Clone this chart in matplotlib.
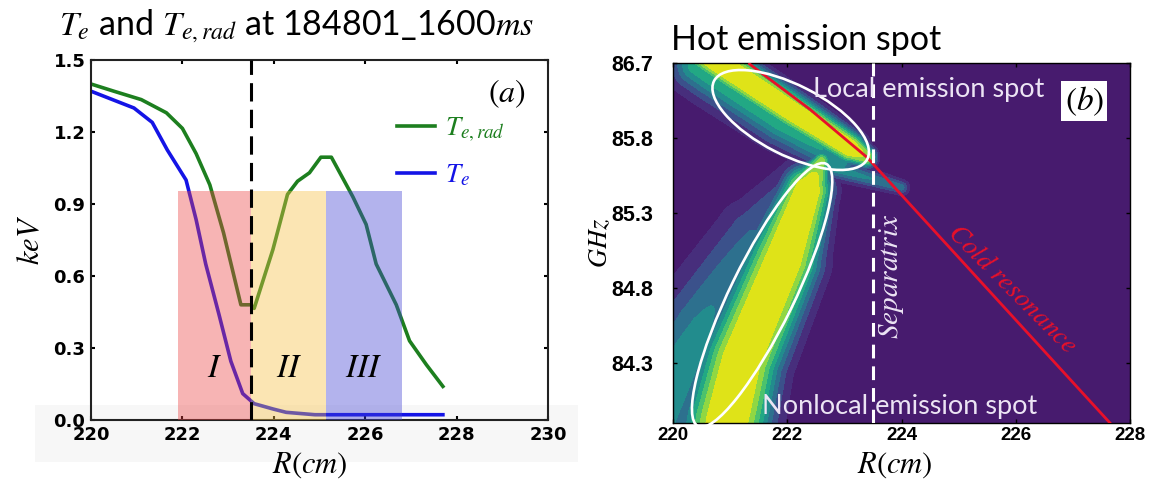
import numpy as np
import matplotlib
matplotlib.use('Agg')
import matplotlib.pyplot as plt
from matplotlib.patches import Rectangle, Ellipse
from matplotlib.lines import Line2D
import matplotlib.transforms as mtransforms
from matplotlib import cm

plt.rcParams['mathtext.fontset'] = 'stix'
plt.rcParams['font.family'] = ['Lato', 'DejaVu Sans']

# ---------------- panel (a) data ----------------
R_rad = [220.0, 220.5, 221.1, 221.65, 222.0, 222.3, 222.6, 222.9, 223.28, 223.5,
         223.57, 223.98, 224.3, 224.52, 224.78, 225.03, 225.26, 225.73, 226.02,
         226.24, 226.68, 226.97, 227.34, 227.7]
T_rad = [1.40, 1.37, 1.335, 1.28, 1.215, 1.11, 0.98, 0.78, 0.48, 0.48,
         0.465, 0.71, 0.94, 0.995, 1.03, 1.095, 1.095, 0.93, 0.815,
         0.65, 0.48, 0.33, 0.23, 0.14]
R_e = [220.0, 220.94, 221.34, 221.67, 222.08, 222.3, 222.51, 222.8, 223.06,
       223.32, 223.57, 224.0, 224.27, 224.9, 227.7]
T_e = [1.37, 1.30, 1.24, 1.125, 1.0, 0.835, 0.65, 0.44, 0.245,
       0.11, 0.068, 0.045, 0.032, 0.022, 0.022]
region_edges = [221.9, 223.5, 225.15, 226.8]
region_top = 0.955
region_labels = ['I', 'II', 'III']
separatrix_R = 223.5
xticks_a = [220, 222, 224, 226, 228, 230]
yticks_a = [0.0, 0.3, 0.6, 0.9, 1.2, 1.5]

# ---------------- panel (b) data ----------------
# emission ridges: centre line (R, f), half-width (px), amplitude
local_R = [220.56, 220.81, 222.05, 223.1, 223.38]
local_f = [86.367, 86.30, 85.987, 85.733, 85.673]
local_w = [19, 19, 18, 15, 10]
local_a = [1.0, 1.0, 1.0, 1.0, 0.85]

sheath_R = [220.40, 220.65, 221.89, 222.94]
sheath_f = [86.28, 86.213, 85.90, 85.647]
sheath_w = [21, 21, 20, 14]
sheath_a = [0.6, 0.6, 0.6, 0.5]

nonlocal_R = [222.6, 222.35, 221.93, 221.2, 220.95, 220.88]
nonlocal_f = [85.65, 85.45, 84.987, 84.32, 83.92, 83.72]
nonlocal_w = [8, 24, 35, 38, 41, 42]
nonlocal_a = [0.8, 1.0, 1.0, 1.0, 1.0, 1.0]

skirt_R = [222.2, 221.4, 220.5, 219.6]
skirt_f = [85.6, 85.15, 84.55, 83.9]
skirt_w = [14, 30, 38, 42]
skirt_a = [0.15, 0.3, 0.44, 0.55]

tail_R = [222.71, 224.0]
tail_f = [85.61, 85.47]
tail_w = [9, 6]
tail_a = [0.5, 0.35]

cold_R = [221.34, 222.4, 223.4, 224.3, 227.65]
cold_f = [86.293, 85.99, 85.67, 85.295, 83.9]

f_tick_pos = [86.3, 85.8, 85.3, 84.8, 84.3]
f_tick_lab = ['86.7', '85.8', '85.3', '84.8', '84.3']
xticks_b = [220, 222, 224, 226, 228]

# ---------------- figure ----------------
W, H = 1149, 484
fig = plt.figure(figsize=(W / 100, H / 100), dpi=100)

# faint grey strip behind the left x tick labels
fig.patches.append(Rectangle((35 / W, 1 - 462 / H), 543 / W, 57 / H,
                             transform=fig.transFigure, facecolor='#f7f7f7',
                             edgecolor='none', zorder=-5))

ax1 = fig.add_axes([91 / W, 1 - 420 / H, 457 / W, 360 / H])
ax1.patch.set_alpha(0)

green = '#1d7f1f'
blue = '#1414e6'
ax1.plot(R_rad, T_rad, color=green, lw=2.6, zorder=2)
ax1.plot(R_e, T_e, color=blue, lw=2.6, zorder=2)

rect_cols = ['#eb4444', '#f7c043', '#4343d4']
for i in range(3):
    ax1.add_patch(Rectangle((region_edges[i], 0), region_edges[i + 1] - region_edges[i],
                            region_top, facecolor=rect_cols[i], alpha=0.4,
                            edgecolor='none', zorder=3))
    xc = 0.5 * (region_edges[i] + region_edges[i + 1])
    ax1.text(xc, 0.215, '$' + region_labels[i] + '$', ha='center', va='center',
             fontsize=24, zorder=5)

ax1.axvline(separatrix_R, color='black', lw=2.2, ls=(0, (6, 2.7)), zorder=4)

ax1.set_xlim(220, 230)
ax1.set_ylim(0, 1.5)
ax1.set_xticks(xticks_a)
ax1.set_xticklabels([str(v) for v in xticks_a])
ax1.set_yticks(yticks_a)
ax1.set_yticklabels(['%.1f' % v for v in yticks_a])
ax1.tick_params(direction='in', length=3, width=1.5, top=True, right=True,
                labelsize=13, pad=4)
for lab in ax1.get_xticklabels() + ax1.get_yticklabels():
    lab.set_fontweight('bold')
    lab.set_family('DejaVu Sans')
for s in ax1.spines.values():
    s.set_linewidth(1.5)
    s.set_color('#222222')

handles = [Line2D([], [], color=green, lw=2.6), Line2D([], [], color=blue, lw=2.6)]
ax1.legend(handles, ['$T_{e,rad}$', '$T_e$'], loc='upper left',
           bbox_to_anchor=(0.67, 0.845), frameon=False, fontsize=19.5,
           handlelength=1.4, handletextpad=0.35, labelspacing=0.68,
           labelcolor='linecolor', borderaxespad=0, borderpad=0)
ax1.text(0.91, 0.905, '$(a)$', transform=ax1.transAxes, ha='center', va='center',
         fontsize=23)

fig.text(297 / W, 1 - 26 / H, r'$T_e$ and $T_{e,rad}$ at 184801_1600$ms$',
         ha='center', va='center', fontsize=24.5)
fig.text(30 / W, 1 - 240 / H, '$keV$', rotation=90, ha='center', va='center',
         fontsize=22)
fig.text(310 / W, 1 - 465 / H, '$R(cm)$', ha='center', va='center', fontsize=22)

# ---------------- panel (b) ----------------
ax2 = fig.add_axes([673 / W, 1 - 423 / H, 457 / W, 360 / H])
x0, x1 = 220.0, 228.0
y0, y1 = 83.9, 86.3
SX = 457 / (x1 - x0)
SY = 360 / (y1 - y0)

Rg, Fg = np.meshgrid(np.linspace(x0, x1, 500), np.linspace(y0, y1, 400))
X = (Rg - x0) * SX
Y = (Fg - y0) * SY


def band(pr, pf, pw, pa, p):
    px = (np.asarray(pr) - x0) * SX
    py = (np.asarray(pf) - y0) * SY
    out = np.zeros_like(X)
    for i in range(len(px) - 1):
        dx, dy = px[i + 1] - px[i], py[i + 1] - py[i]
        t = ((X - px[i]) * dx + (Y - py[i]) * dy) / (dx * dx + dy * dy)
        t = np.clip(t, 0, 1)
        d = np.hypot(X - (px[i] + t * dx), Y - (py[i] + t * dy))
        w = pw[i] + t * (pw[i + 1] - pw[i])
        a = pa[i] + t * (pa[i + 1] - pa[i])
        out = np.maximum(out, a * np.exp(-(d / w) ** p))
    return out


Z = np.maximum.reduce([
    band(local_R, local_f, local_w, local_a, 3),
    band(sheath_R, sheath_f, sheath_w, sheath_a, 2),
    band(nonlocal_R, nonlocal_f, nonlocal_w, nonlocal_a, 3),
    band(skirt_R, skirt_f, skirt_w, skirt_a, 2),
    band(tail_R, tail_f, tail_w, tail_a, 2),
])

levels = [0.06, 0.17, 0.29, 0.41, 0.53, 0.65, 0.77, 0.88, 2.0]
cols = [cm.viridis(v) for v in np.linspace(0.13, 0.95, 8)]
ax2.set_facecolor('#471b6e')
ax2.contourf(Rg, Fg, Z, levels=levels, colors=cols, zorder=1)

ax2.plot(cold_R, cold_f, color='#e8102a', lw=2.0, zorder=3)
ax2.axvline(separatrix_R, color='white', lw=2.2, ls=(0, (4.5, 2.6)), zorder=4)


def add_ellipse(ax, cR, cf, w_px, h_px, ang):
    tr = fig.dpi_scale_trans + mtransforms.ScaledTranslation(cR, cf, ax.transData)
    ax.add_patch(Ellipse((0, 0), w_px / 100, h_px / 100, angle=ang, transform=tr,
                         fill=False, ec='white', lw=1.9, clip_on=False, zorder=5))


add_ellipse(ax2, 222.06, 85.92, 172, 70, -27)
add_ellipse(ax2, 221.56, 84.753, 292, 64, 64)

txtc = '#ece4f4'
ax2.text(222.45, 86.12, 'Local emission spot', color=txtc, fontsize=19.5,
         ha='left', va='center', zorder=6)
ax2.text(221.55, 84.01, 'Nonlocal emission spot', color=txtc, fontsize=19.5,
         ha='left', va='center', zorder=6)
ax2.text(223.82, 84.875, '$Separatrix$', color=txtc, fontsize=21, rotation=90,
         ha='center', va='center', zorder=6)
ax2.text(225.94, 84.79, '$Cold\\ resonance$', color='#e8102a', fontsize=19.5,
         rotation=-45, rotation_mode='anchor', ha='center', va='center', zorder=6)
ax2.text(0.90, 0.894, '$(b)$', transform=ax2.transAxes, ha='center', va='center',
         fontsize=24, zorder=7,
         bbox=dict(facecolor='white', edgecolor='none', boxstyle='square,pad=0.1'))

ax2.set_xlim(x0, x1)
ax2.set_ylim(y0, y1)
ax2.set_xticks(xticks_b)
ax2.set_xticklabels([str(v) for v in xticks_b])
ax2.set_yticks(f_tick_pos)
ax2.set_yticklabels(f_tick_lab)
ax2.tick_params(axis='y', direction='in', length=3, width=1, right=True,
                labelsize=15.5, pad=14)
ax2.tick_params(axis='x', direction='in', length=3, width=1, top=True,
                labelsize=13.5, pad=3)
for lab in ax2.get_xticklabels() + ax2.get_yticklabels():
    lab.set_fontweight('bold')
    lab.set_family('Liberation Sans')
for s in ax2.spines.values():
    s.set_linewidth(1)
    s.set_color('black')

fig.text(671 / W, 1 - 40 / H, 'Hot emission spot', ha='left', va='center',
         fontsize=24.5)
fig.text(600 / W, 1 - 243 / H, '$GHz$', rotation=90, ha='center', va='center',
         fontsize=19)
fig.text(895 / W, 1 - 465 / H, '$R(cm)$', ha='center', va='center', fontsize=22)

fig.savefig('out.png', dpi=100)
